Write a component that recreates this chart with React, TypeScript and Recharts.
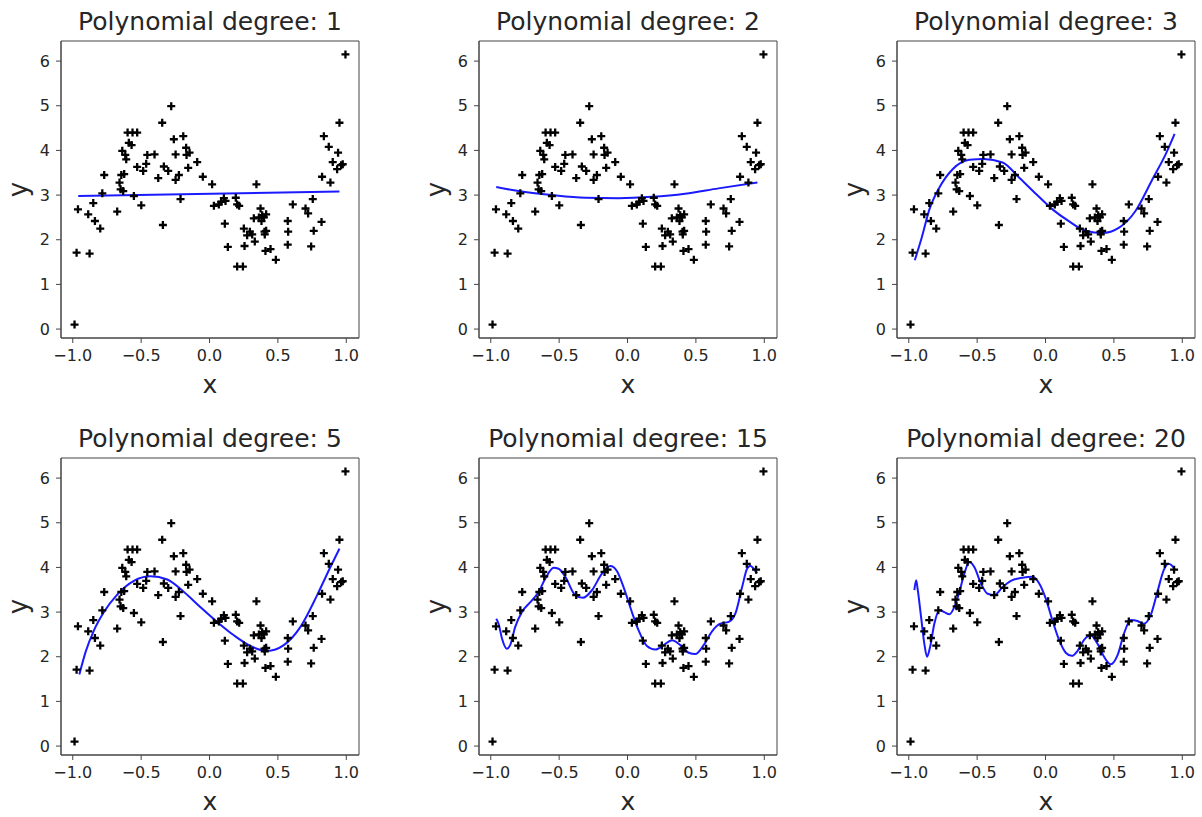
import { ComposedChart, Scatter, Line, XAxis, YAxis, ReferenceArea } from 'recharts';

// sampled points (same in every panel)
const SAMPLE_X = [
  -0.987, -0.972, -0.962, -0.877, -0.887, -0.85, -0.838, -0.799, -0.784, -0.77,
  -0.675, -0.658, -0.65, -0.645, -0.638, -0.631, -0.624, -0.616, -0.609, -0.599,
  -0.59, -0.57, -0.563, -0.553, -0.529, -0.529, -0.499, -0.485, -0.463, -0.455,
  -0.402, -0.375, -0.346, -0.341, -0.334, -0.302, -0.28, -0.261, -0.248, -0.248,
  -0.224, -0.212, -0.192, -0.171, -0.168, -0.156, -0.146, -0.09, -0.049, 0.019,
  0.032, 0.068, 0.085, 0.105, 0.112, 0.117, 0.134, 0.192, 0.202, 0.202,
  0.217, 0.244, 0.251, 0.256, 0.275, 0.295, 0.312, 0.324, 0.331, 0.343,
  0.361, 0.373, 0.38, 0.385, 0.397, 0.402, 0.404, 0.414, 0.414, 0.409,
  0.446, 0.485, 0.572, 0.575, 0.572, 0.609, 0.702, 0.721, 0.743, 0.755,
  0.762, 0.819, 0.823, 0.836, 0.872, 0.884, 0.901, 0.933, 0.94, 0.95,
  0.962, 0.974, 0.994,
];
const SAMPLE_Y = [
  0.1, 1.71, 2.68, 1.69, 2.57, 2.82, 2.42, 2.25, 3.04, 3.45,
  2.63, 3.28, 3.13, 3.45, 3.99, 3.09, 3.47, 3.9, 3.8, 4.4,
  4.17, 4.12, 4.4, 2.98, 4.4, 3.63, 2.77, 3.54, 3.7, 3.9,
  3.91, 3.38, 4.62, 2.33, 3.64, 3.54, 4.99, 4.25, 3.91, 3.34,
  3.45, 2.91, 4.32, 4.06, 3.9, 3.61, 3.95, 3.74, 3.41, 3.24,
  2.76, 2.79, 2.85, 2.93, 2.36, 2.87, 1.84, 2.94, 2.79, 1.4,
  2.76, 1.4, 2.25, 1.86, 2.1, 2.18, 2.12, 2.48, 1.96, 3.24,
  2.5, 2.7, 2.42, 2.55, 2.5, 2.18, 2.12, 2.57, 2.2, 1.75,
  1.79, 1.55, 2.42, 2.18, 1.89, 2.79, 2.7, 2.59, 1.85, 2.91,
  2.2, 2.4, 3.41, 4.32, 4.08, 3.28, 3.74, 3.58, 3.95, 4.62,
  3.67, 3.69, 6.15,
];

// fitted curves
const FIT1_X = [-0.96, 0.95];
const FIT1_Y = [2.98, 3.08];

const FIT2_X = [-0.96, -0.797, -0.553, -0.309, -0.066, 0.178, 0.421, 0.665, 0.95];
const FIT2_Y = [3.18, 3.09, 3.0, 2.94, 2.93, 2.96, 3.03, 3.15, 3.28];

const FIT3_X = [-0.956, -0.905, -0.849, -0.776, -0.679, -0.557, -0.45, -0.314, -0.192, -0.071, 0.051, 0.173, 0.294, 0.416, 0.538, 0.659, 0.781, 0.878, 0.944];
const FIT3_Y = [1.54, 2.05, 2.68, 3.17, 3.58, 3.79, 3.81, 3.73, 3.39, 3.03, 2.68, 2.41, 2.2, 2.15, 2.27, 2.65, 3.35, 3.91, 4.37];

const FIT5_X = [-0.952, -0.906, -0.845, -0.772, -0.675, -0.553, -0.431, -0.309, -0.187, -0.066, 0.056, 0.178, 0.3, 0.421, 0.543, 0.665, 0.787, 0.884, 0.95];
const FIT5_Y = [1.6, 2.11, 2.59, 3.0, 3.39, 3.7, 3.8, 3.73, 3.45, 3.11, 2.78, 2.48, 2.24, 2.13, 2.26, 2.67, 3.38, 4.01, 4.42];

const FIT15_X = [
  -0.96, -0.943, -0.918, -0.882, -0.858, -0.821, -0.772, -0.699, -0.65, -0.601,
  -0.54, -0.504, -0.455, -0.382, -0.326, -0.26, -0.187, -0.126, -0.078, -0.029,
  0.032, 0.081, 0.142, 0.203, 0.264, 0.325, 0.386, 0.447, 0.496, 0.557,
  0.618, 0.679, 0.74, 0.789, 0.838, 0.874, 0.898, 0.923, 0.947,
];
const FIT15_Y = [
  2.85, 2.74, 2.41, 2.18, 2.26, 2.67, 3.0, 3.26, 3.45, 3.75,
  3.99, 3.97, 3.79, 3.38, 3.32, 3.49, 3.86, 4.03, 3.92, 3.56,
  3.0, 2.59, 2.24, 2.16, 2.26, 2.37, 2.26, 2.09, 2.06, 2.26,
  2.57, 2.74, 2.78, 2.97, 3.56, 3.97, 4.04, 3.97, 3.87,
];

const FIT20_X = [
  -0.959, -0.946, -0.934, -0.91, -0.886, -0.866, -0.844, -0.813, -0.776, -0.74,
  -0.703, -0.667, -0.63, -0.594, -0.557, -0.521, -0.472, -0.423, -0.374, -0.314,
  -0.253, -0.168, -0.095, -0.046, 0.002, 0.051, 0.1, 0.148, 0.192, 0.234,
  0.282, 0.331, 0.38, 0.428, 0.477, 0.526, 0.574, 0.623, 0.672, 0.72,
  0.769, 0.818, 0.866, 0.898, 0.922, 0.946,
];
const FIT20_Y = [
  3.49, 3.71, 3.49, 2.89, 2.29, 2.0, 2.22, 2.74, 3.04, 3.0,
  2.95, 3.11, 3.45, 3.86, 4.12, 4.01, 3.64, 3.41, 3.38, 3.56,
  3.7, 3.77, 3.79, 3.64, 3.3, 2.81, 2.37, 2.09, 2.02, 2.13,
  2.38, 2.48, 2.29, 2.0, 1.83, 2.03, 2.52, 2.82, 2.8, 2.74,
  2.93, 3.45, 3.95, 4.08, 4.05, 3.95,
];

const DEGREES = [1, 2, 3, 5, 15, 20];
const FITS_X = [FIT1_X, FIT2_X, FIT3_X, FIT5_X, FIT15_X, FIT20_X];
const FITS_Y = [FIT1_Y, FIT2_Y, FIT3_Y, FIT5_Y, FIT15_Y, FIT20_Y];

const X_TICKS = [-1, -0.5, 0, 0.5, 1];
const Y_TICKS = [0, 1, 2, 3, 4, 5, 6];
const X_MIN = -1.086;
const X_MAX = 1.093;
const Y_MIN = -0.2;
const Y_MAX = 6.45;

const FONT = '"DejaVu Sans", sans-serif';
const TEXT = '#262626';
const SPINE = '#444';

const points = SAMPLE_X.map((x, i) => ({ x, y: SAMPLE_Y[i] }));

const fmtX = (v: number) => (v < 0 ? '\u2212' + Math.abs(v).toFixed(1) : v.toFixed(1));

function Plus(props: any) {
  const { cx, cy } = props;
  if (cx == null || cy == null) return null;
  const r = 4;
  return <path d={`M${cx - r},${cy}H${cx + r}M${cx},${cy - r}V${cy + r}`} stroke="#000" strokeWidth={2.3} fill="none" />;
}

function XLabel(props: any) {
  const { viewBox } = props;
  const x = viewBox.x + viewBox.width / 2;
  const y = viewBox.y + 55;
  return (
    <text x={x} y={y} textAnchor="middle" fontSize={25} fontFamily={FONT} fill={TEXT}>
      x
    </text>
  );
}

function YLabel(props: any) {
  const { viewBox } = props;
  const x = viewBox.x + 27;
  const y = viewBox.y + viewBox.height / 2;
  return (
    <text x={x} y={y} transform={`rotate(-90 ${x} ${y})`} textAnchor="middle" fontSize={26} fontFamily={FONT} fill={TEXT}>
      y
    </text>
  );
}

function Panel({ idx }: { idx: number }) {
  const fit = FITS_X[idx].map((x, i) => ({ x, y: FITS_Y[idx][i] }));
  const col = idx % 3;
  const row = Math.floor(idx / 3);
  return (
    <div style={{ position: 'absolute', left: col * 418, top: row * 417, width: 366, height: 400 }}>
      <div
        style={{
          position: 'absolute',
          left: 61,
          width: 298,
          top: 9,
          textAlign: 'center',
          fontFamily: FONT,
          fontSize: 25,
          lineHeight: '25px',
          color: TEXT,
          whiteSpace: 'nowrap',
        }}
      >
        Polynomial degree: {DEGREES[idx]}
      </div>
      <ComposedChart width={366} height={400} margin={{ top: 41, right: 7, bottom: 0, left: 0 }}>
        <XAxis
          type="number"
          dataKey="x"
          domain={[X_MIN, X_MAX]}
          ticks={X_TICKS}
          allowDataOverflow
          height={62}
          tickFormatter={fmtX}
          tick={{ fontSize: 16, fill: TEXT, fontFamily: FONT }}
          tickSize={5}
          tickMargin={7}
          tickLine={{ stroke: SPINE }}
          axisLine={{ stroke: SPINE }}
          label={<XLabel />}
        />
        <YAxis
          type="number"
          dataKey="y"
          domain={[Y_MIN, Y_MAX]}
          ticks={Y_TICKS}
          allowDataOverflow
          width={61}
          tick={{ fontSize: 16, fill: TEXT, fontFamily: FONT }}
          tickSize={5}
          tickMargin={6}
          tickLine={{ stroke: SPINE }}
          axisLine={{ stroke: SPINE }}
          label={<YLabel />}
        />
        <ReferenceArea x1={X_MIN} x2={X_MAX} y1={Y_MIN} y2={Y_MAX} fill="none" stroke={SPINE} strokeWidth={1} />
        <Scatter data={points} shape={<Plus />} isAnimationActive={false} />
        <Line
          data={fit}
          dataKey="y"
          type="monotone"
          stroke="#1a1aff"
          strokeWidth={2}
          dot={false}
          activeDot={false}
          isAnimationActive={false}
        />
      </ComposedChart>
    </div>
  );
}

export default function App() {
  return (
    <div style={{ position: 'absolute', left: 0, top: 0, width: 1202, height: 817, overflow: 'hidden', background: '#fff' }}>
      {DEGREES.map((_, i) => (
        <Panel key={i} idx={i} />
      ))}
    </div>
  );
}
